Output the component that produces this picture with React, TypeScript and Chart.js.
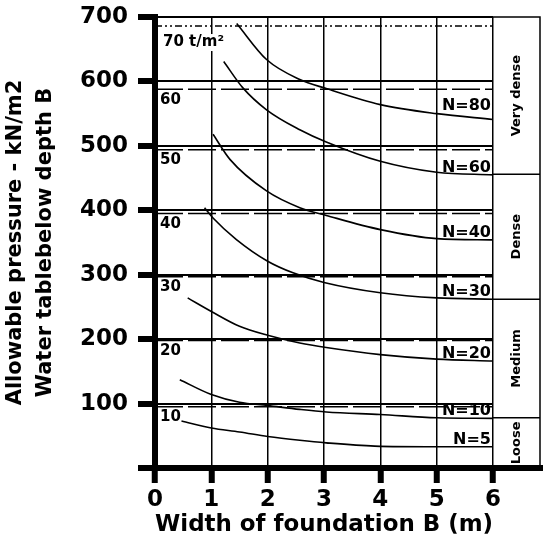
import React, { useEffect, useRef } from 'react';
import { Chart, registerables } from 'chart.js';

Chart.register(...registerables);

// Curves: allowable pressure (kN/m2) vs width of foundation B (m)
const n80Width = [1.45, 1.98, 2.57, 3.04, 4.0, 5.0, 6.0];
const n80Pressure = [690, 634, 603, 589, 564, 550, 541];
const n60Width = [1.22, 1.56, 1.98, 2.57, 3.04, 4.0, 5.0, 6.0];
const n60Pressure = [631, 590, 556, 525, 506, 476, 459, 455];
const n40Width = [1.03, 1.33, 1.98, 2.57, 3.04, 4.0, 5.0, 6.0];
const n40Pressure = [518, 479, 430, 404, 392, 370, 356, 354];
const n30Width = [0.88, 1.03, 1.44, 2.0, 2.45, 3.0, 4.0, 5.0, 6.0];
const n30Pressure = [404, 388, 355, 321, 303, 288, 272, 264, 262];
const n20Width = [0.58, 1.0, 1.5, 2.0, 2.57, 3.04, 4.0, 5.0, 6.0];
const n20Pressure = [264, 243, 220, 206, 194, 187, 176, 169, 166];
const n10Width = [0.44, 1.0, 1.5, 2.0, 2.57, 3.04, 4.0, 5.0, 6.0];
const n10Pressure = [137, 114, 102, 97, 91, 87, 83, 78, 77];
const n5Width = [0.47, 1.0, 1.5, 2.0, 2.57, 3.04, 3.9, 5.0, 6.0];
const n5Pressure = [73, 62, 56, 49, 43, 39, 34, 33, 33];

const curveLabels = ['N=80', 'N=60', 'N=40', 'N=30', 'N=20', 'N=10', 'N=5'];

// t/m2 reference lines
const tonneLevels = [686, 588, 494, 395, 297, 198, 95];
const tonneLabels = ['70 t/m²', '60', '50', '40', '30', '20', '10'];

// density side panel
const densityLabels = ['Very dense', 'Dense', 'Medium', 'Loose'];
const densityBounds = [700, 456, 262, 78, 0];

const yTitle = ['Allowable pressure - kN/m2', 'Water tablebelow depth B'];
const xTitle = 'Width of foundation B (m)';

const FONT = "'DejaVu Sans', sans-serif";

export default function App() {
  const ref = useRef<HTMLCanvasElement>(null);

  useEffect(() => {
    if (!ref.current) return;
    const curves = [
      { w: n80Width, p: n80Pressure },
      { w: n60Width, p: n60Pressure },
      { w: n40Width, p: n40Pressure },
      { w: n30Width, p: n30Pressure },
      { w: n20Width, p: n20Pressure },
      { w: n10Width, p: n10Pressure },
      { w: n5Width, p: n5Pressure },
    ];

    const curveSets = curves.map((c, i) => ({
      label: curveLabels[i],
      data: c.w.map((x, j) => ({ x, y: c.p[j] })),
      borderColor: '#000',
      borderWidth: 1.6,
      pointRadius: 0,
      cubicInterpolationMode: 'monotone' as const,
      fill: false,
    }));

    const tonneSets = tonneLevels.map((v, i) => ({
      label: tonneLabels[i],
      data: [{ x: 0, y: v }, { x: 6, y: v }],
      borderColor: '#000',
      borderWidth: 1.5,
      borderDash: i === 0 ? [7, 3, 2, 3, 2, 3] : [28, 5],
      pointRadius: 0,
      fill: false,
    }));

    const labelPlugin = {
      id: 'annotLabels',
      afterDatasetsDraw(chart: any) {
        const { ctx, scales } = chart;
        const x = scales.x;
        const y = scales.y;
        ctx.save();
        ctx.font = `bold 15px ${FONT}`;
        ctx.textAlign = 'left';
        ctx.textBaseline = 'top';
        tonneLevels.forEach((v, i) => {
          const py = y.getPixelForValue(v) + (i === 0 ? 9 : 3);
          const px = x.getPixelForValue(0) + (i === 0 ? 8 : 5);
          const w = ctx.measureText(tonneLabels[i]).width;
          if (i === 0) {
            ctx.fillStyle = '#fff';
            ctx.fillRect(px - 2, py - 1, w + 4, 17);
          }
          ctx.fillStyle = '#000';
          ctx.fillText(tonneLabels[i], px, py);
        });
        ctx.font = `bold 16px ${FONT}`;
        ctx.textAlign = 'right';
        ctx.textBaseline = 'alphabetic';
        curves.forEach((c, i) => {
          const last = c.p[c.p.length - 1];
          ctx.fillText(curveLabels[i], x.getPixelForValue(6) - 2, y.getPixelForValue(last) - (i === 0 ? 9 : 3));
        });
        ctx.restore();
      },
      afterDraw(chart: any) {
        const { ctx, scales } = chart;
        const x = scales.x;
        const y = scales.y;
        const left = x.getPixelForValue(6);
        const right = left + 47;
        const top = y.getPixelForValue(densityBounds[0]);
        const bot = y.getPixelForValue(0);
        ctx.save();
        ctx.strokeStyle = '#000';
        ctx.lineWidth = 1.5;
        ctx.beginPath();
        ctx.moveTo(left, top);
        ctx.lineTo(right, top);
        ctx.lineTo(right, bot);
        ctx.stroke();
        densityBounds.slice(1, -1).forEach((v) => {
          const py = y.getPixelForValue(v);
          ctx.beginPath();
          ctx.moveTo(left, py);
          ctx.lineTo(right, py);
          ctx.stroke();
        });
        ctx.lineWidth = 6;
        ctx.beginPath();
        ctx.moveTo(left, bot);
        ctx.lineTo(right + 3, bot);
        ctx.stroke();
        ctx.fillStyle = '#000';
        ctx.font = `bold 13px ${FONT}`;
        ctx.textAlign = 'center';
        ctx.textBaseline = 'middle';
        densityLabels.forEach((t, i) => {
          const y1 = y.getPixelForValue(densityBounds[i]);
          const y2 = y.getPixelForValue(densityBounds[i + 1]);
          ctx.save();
          ctx.translate((left + right) / 2, (y1 + y2) / 2);
          ctx.rotate(-Math.PI / 2);
          ctx.fillText(t, 0, 0);
          ctx.restore();
        });
        ctx.restore();
      },
    };

    const chart = new Chart(ref.current, {
      type: 'line',
      data: { datasets: [...tonneSets, ...curveSets] as any },
      options: {
        animation: false,
        responsive: false,
        devicePixelRatio: 1,
        layout: { padding: { top: 17, right: 51, left: 0, bottom: 0 } },
        plugins: { legend: { display: false }, tooltip: { enabled: false } },
        scales: {
          x: {
            type: 'linear',
            min: 0,
            max: 6,
            ticks: {
              stepSize: 1,
              color: '#000',
              padding: 3,
              maxRotation: 0,
              font: { family: FONT, size: 23, weight: 'bold' },
            },
            grid: { color: '#000', lineWidth: 1.5, tickLength: 15, tickWidth: 6, tickColor: '#000' },
            border: { color: '#000', width: 6 },
            title: {
              display: true,
              text: xTitle,
              color: '#000',
              font: { family: FONT, size: 23, weight: 'bold', lineHeight: 1.2 },
              padding: { top: 0, bottom: 2 },
            },
            afterFit(s: any) {
              s.height = 73;
              s.paddingLeft = 0;
              s.paddingRight = 0;
              s.paddingTop = 0;
              s.paddingBottom = 0;
            },
          } as any,
          y: {
            type: 'linear',
            min: 0,
            max: 700,
            ticks: {
              stepSize: 100,
              color: '#000',
              padding: 10,
              font: { family: FONT, size: 23, weight: 'bold' },
              callback: (v: any) => (v === 0 ? '' : String(v)),
            },
            grid: { color: '#000', lineWidth: 2, tickLength: 17, tickWidth: 6, tickColor: '#000' },
            border: { color: '#000', width: 6 },
            title: {
              display: true,
              text: yTitle,
              color: '#000',
              font: { family: FONT, size: 21, weight: 'bold', lineHeight: 1.43 },
              padding: { top: 1, bottom: 0 },
            },
            afterFit(s: any) {
              s.width = 155;
              s.paddingLeft = 0;
              s.paddingRight = 0;
              s.paddingTop = 0;
              s.paddingBottom = 0;
            },
          } as any,
        },
      },
      plugins: [labelPlugin],
    });
    return () => chart.destroy();
  }, []);

  return (
    <canvas
      ref={ref}
      width={544}
      height={541}
      style={{ position: 'absolute', left: 0, top: 0, display: 'block' }}
    />
  );
}
